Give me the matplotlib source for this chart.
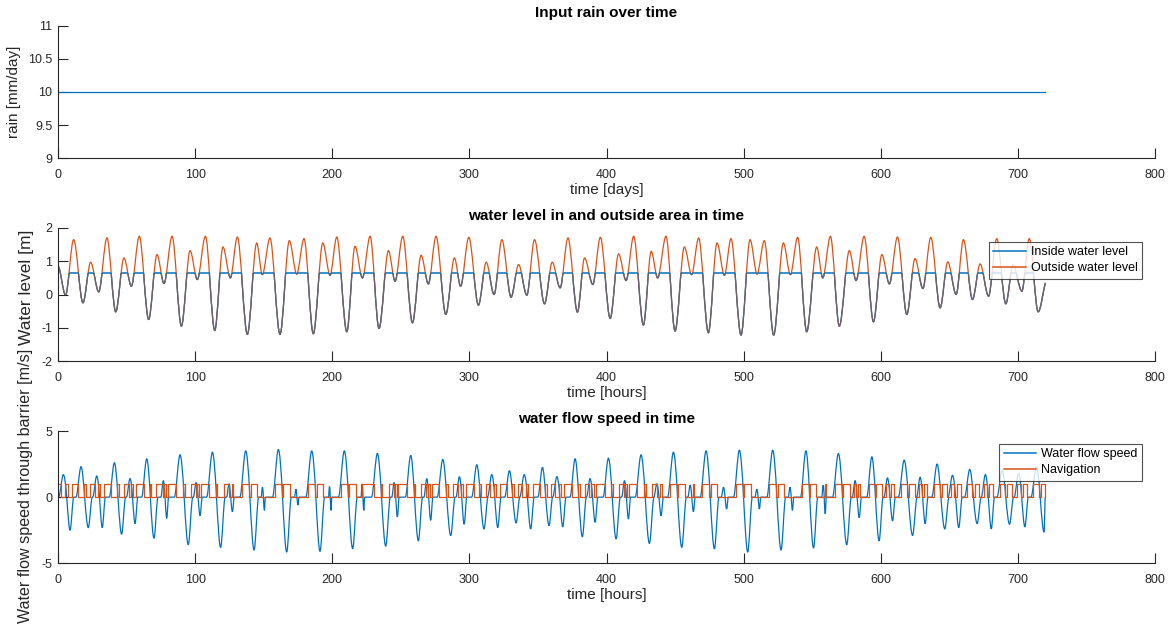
import numpy as np
import matplotlib
matplotlib.use("Agg")
import matplotlib.pyplot as plt
from matplotlib.ticker import FuncFormatter
from matplotlib.path import Path
from matplotlib.patches import PathPatch
from matplotlib.lines import Line2D

plt.rcParams['font.family'] = ['Liberation Sans', 'DejaVu Sans']

# ---- rain input ----
rain_days = [0, 720]
rain_mm = [10, 10]

# ---- outside tide: alternating low / high water (hour, level m) ----
tide_hours = [0, 5.5, 11.4, 18.2, 23.8, 29.7, 35.7, 42.1, 48.1, 53.5, 59.3, 66.1,
              72.2, 77.3, 83.2, 90.0, 96.3, 101.6, 107.5, 114.3, 120.3, 125.7, 130.8,
              138.1, 144.9, 149.0, 154.6, 161.9, 168.7, 174.1, 179.4, 186.2, 193.1,
              198.4, 203.3, 210.6, 216.6, 222.0, 227.6, 234.1, 241.0, 245.8, 251.4,
              258.5, 264.8, 270.1, 275.7, 282.8, 289.1, 293.6, 299.6, 306.6, 312.3,
              318.0, 323.7, 330.4, 335.9, 341.9, 347.5, 354.8, 360.4, 366.2, 371.9,
              378.8, 384.0, 390.0, 395.5, 402.7, 408.8, 414.3, 419.8, 426.9, 432.6,
              437.3, 443.4, 450.0, 456.8, 462.1, 467.2, 474.3, 480.6, 486.0, 490.8,
              498.1, 504.7, 509.8, 515.1, 521.9, 529.0, 534.1, 539.4, 546.0, 553.3,
              557.7, 563.3, 569.8, 577.1, 582.0, 587.9, 594.7, 600.8, 606.3, 612.2,
              619.0, 625.0, 630.7, 636.5, 643.3, 648.9, 655.0, 660.3, 666.9, 672.5,
              678.6, 684.6, 691.2, 696.5, 702.9, 708.3, 714.8, 720.0]
outside_level = [0.85, -0.02, 1.65, -0.25, 0.97, 0.08, 1.70, -0.52, 1.10, 0.25, 1.75, -0.75,
                 1.20, 0.33, 1.75, -0.95, 1.32, 0.45, 1.75, -1.08, 1.43, 0.50, 1.73,
                 -1.20, 1.55, 0.60, 1.70, -1.20, 1.62, 0.62, 1.68, -1.18, 1.55,
                 0.58, 1.73, -1.12, 1.45, 0.50, 1.75, -1.02, 1.32, 0.40, 1.75,
                 -0.85, 1.18, 0.32, 1.75, -0.60, 1.10, 0.25, 1.72, -0.32, 0.97,
                 0.00, 1.65, -0.08, 0.90, -0.02, 1.65, -0.28, 0.97, 0.20, 1.70,
                 -0.53, 1.10, 0.30, 1.72, -0.72, 1.22, 0.42, 1.75, -0.92, 1.30,
                 0.50, 1.75, -1.10, 1.43, 0.60, 1.70, -1.15, 1.55, 0.58, 1.68,
                 -1.22, 1.65, 0.62, 1.62, -1.22, 1.55, 0.60, 1.72, -1.12, 1.43,
                 0.50, 1.75, -0.95, 1.32, 0.42, 1.75, -0.82, 1.20, 0.32, 1.73,
                 -0.60, 1.08, 0.18, 1.72, -0.40, 0.98, 0.00, 1.65, -0.15, 0.92,
                 -0.05, 1.68, -0.28, 0.90, 0.10, 1.68, -0.52, 0.35]

# inside level is held at this value while the barrier is closed
inside_plateau = 0.65

# ---- flow through barrier: outflow peaks and inflow troughs (hour, m/s) ----
flow_peak_hours = [3.9, 16.8, 28.2, 41.1, 52.5, 64.7, 76.8, 89.0, 100.7, 112.6, 124.7,
                   136.9, 149.1, 160.7, 173.5, 185.0, 198.0, 208.8, 221.8, 232.9, 245.1,
                   257.2, 268.9, 280.6, 292.7, 305.4, 316.3, 329.2, 340.0, 353.3, 363.8,
                   377.1, 388.0, 401.4, 413.1, 425.2, 436.7, 448.8, 461.0, 472.6, 485.3,
                   496.9, 509.6, 521.2, 533.8, 545.4, 558.0, 569.1, 581.3, 593.5, 604.9,
                   617.1, 628.7, 641.1, 652.3, 664.9, 676.3, 688.5, 700.5, 713.5]
flow_peak_speed = [1.7, 2.3, 1.6, 2.6, 1.4, 2.9, 1.25, 3.2, 1.1, 3.4, 1.0,
                   3.5, 0.75, 3.6, 0.6, 3.5, 0.8, 3.5, 1.0, 3.3, 1.1,
                   3.15, 1.4, 2.85, 1.55, 2.45, 1.7, 2.0, 1.7, 2.25, 1.55,
                   2.9, 1.4, 2.95, 1.25, 3.2, 1.0, 3.4, 0.9, 3.5, 0.75,
                   3.55, 0.6, 3.55, 0.75, 3.5, 0.9, 3.3, 1.25, 3.05, 1.45,
                   2.8, 1.5, 2.5, 1.65, 2.1, 1.7, 2.0, 1.8, 2.3]
flow_trough_hours = [8.8, 22.1, 32.3, 46.4, 56.2, 70.0, 79.3, 95.0, 103.6, 118.6, 127.2,
                     143.0, 150.5, 166.8, 175.0, 191.1, 199.1, 214.9, 223.0, 239.0, 247.5,
                     262.8, 271.8, 286.4, 296.2, 310.7, 320.7, 334.1, 344.7, 358.1, 368.1,
                     382.4, 391.7, 407.0, 416.0, 431.3, 439.8, 454.9, 463.4, 478.7, 487.6,
                     503.0, 511.5, 527.3, 535.6, 551.0, 559.5, 575.2, 584.3, 598.8, 608.6,
                     623.2, 632.4, 646.7, 656.9, 670.3, 680.6, 693.9, 705.1, 719.1]
flow_trough_speed = [-2.5, -2.3, -2.3, -2.8, -2.0, -3.1, -1.6, -3.6, -1.4, -3.8, -1.1,
                     -4.0, -1.0, -4.15, -0.6, -4.1, -1.0, -3.9, -1.0, -3.7, -1.5,
                     -3.3, -1.75, -2.9, -2.05, -2.4, -2.3, -1.95, -2.4, -2.15, -2.25,
                     -3.0, -1.9, -3.15, -1.65, -3.5, -1.4, -3.8, -1.1, -3.9, -0.9,
                     -4.15, -0.9, -4.0, -1.0, -3.85, -1.25, -3.6, -1.55, -3.3, -1.8,
                     -2.9, -2.0, -2.4, -2.3, -2.0, -2.4, -2.05, -2.25, -2.65]

# ships may pass while the flow through the barrier stays below this speed
navigation_limit = 1.0

BLUE = '#0072BD'
ORANGE = '#D95319'
AX_COLOR = '#262626'
LW = 0.9
TICK_FS = 9
LABEL_FS = 11
TITLE_FS = 11


def hermite_segments(xs, ys, slopes):
    """Bezier control points of a cubic Hermite curve through the knots."""
    segs = []
    for i in range(len(xs) - 1):
        d = xs[i + 1] - xs[i]
        segs.append(((xs[i], ys[i]),
                     (xs[i] + d / 3, ys[i] + slopes[i] * d / 3),
                     (xs[i + 1] - d / 3, ys[i + 1] - slopes[i + 1] * d / 3),
                     (xs[i + 1], ys[i + 1])))
    return segs


def smooth_path(xs, ys, slopes):
    segs = hermite_segments(xs, ys, slopes)
    verts = [segs[0][0]]
    codes = [Path.MOVETO]
    for p0, p1, p2, p3 in segs:
        verts += [p1, p2, p3]
        codes += [Path.CURVE4] * 3
    return Path(verts, codes)


def level_crossings(xs, ys, slopes, level):
    """Hours at which the Hermite curve passes through `level`."""
    hits = []
    for p0, p1, p2, p3 in hermite_segments(xs, ys, slopes):
        y0, c1, c2, y1 = p0[1], p1[1], p2[1], p3[1]
        coeffs = [-y0 + 3 * c1 - 3 * c2 + y1, 3 * y0 - 6 * c1 + 3 * c2,
                  -3 * y0 + 3 * c1, y0 - level]
        while coeffs and abs(coeffs[0]) < 1e-12:
            coeffs = coeffs[1:]
        if len(coeffs) < 2:
            continue
        for r in np.roots(coeffs):
            if abs(r.imag) < 1e-9 and 0.0 < r.real < 1.0:
                hits.append(p0[0] + r.real * (p3[0] - p0[0]))
    return hits


def tide_slopes(xs, ys):
    # flat at every high / low water, chord slope at the open end
    s = [0.0] * len(xs)
    s[-1] = (ys[-1] - ys[-2]) / (xs[-1] - xs[-2])
    return s


def flow_knots(pk_t, pk_v, tr_t, tr_v, t_end):
    xs, ys, sl = [], [], []
    for a, av, b, bv in zip(pk_t, pk_v, tr_t, tr_v):
        gap = b - a
        start = max(0.0, a - 0.7 * gap)
        stop = min(t_end, b + 0.55 * gap)
        mid_slope = 1.6 * (bv - av) / gap
        xs += [start, a, 0.5 * (a + b), b]
        ys += [0.0, av, 0.0, bv]
        sl += [0.0, 0.0, mid_slope, 0.0]
        if stop > b:
            xs.append(stop)
            ys.append(0.0)
            sl.append(0.0)
    return xs, ys, sl


def navigation_steps(fx, fy, fs, limit, t_end):
    switches = sorted(level_crossings(fx, fy, fs, limit) +
                      level_crossings(fx, fy, fs, -limit))
    xs, ys, state = [0.0], [1], 1
    for t in switches:
        xs += [t, t]
        ys += [state, 1 - state]
        state = 1 - state
    xs.append(t_end)
    ys.append(state)
    return xs, ys


def style(ax, ylim, yticks):
    ax.set_xlim(0, 800)
    ax.set_ylim(*ylim)
    ax.set_xticks(range(0, 801, 100))
    ax.set_yticks(yticks)
    ax.yaxis.set_major_formatter(FuncFormatter(lambda v, p: '%g' % v))
    for s in ('top', 'right'):
        ax.spines[s].set_visible(False)
    for s in ('left', 'bottom'):
        ax.spines[s].set_color(AX_COLOR)
        ax.spines[s].set_linewidth(0.8)
    ax.tick_params(direction='in', length=7, width=0.8, colors=AX_COLOR,
                   labelsize=TICK_FS)
    ax.tick_params(axis='x', pad=8)
    ax.tick_params(axis='y', pad=4)


def add_legend(ax, labels, right, top):
    handles = [Line2D([], [], color=BLUE, lw=1.1), Line2D([], [], color=ORANGE, lw=1.1)]
    leg = ax.legend(handles, labels, loc='upper right', fontsize=9, frameon=True,
                    fancybox=False, borderpad=0.35, labelspacing=0.3,
                    handlelength=2.6, handletextpad=0.4, borderaxespad=0)
    leg.set_bbox_to_anchor((right / W, 1 - top / H), transform=fig.transFigure)
    leg.get_frame().set_edgecolor(AX_COLOR)
    leg.get_frame().set_linewidth(0.8)
    return leg


fig = plt.figure(figsize=(11.69, 6.30), dpi=100)
W, H = 1169, 630


def axes_px(left, top, right, bottom):
    return fig.add_axes([left / W, 1 - bottom / H, (right - left) / W, (bottom - top) / H])


def place_ylabel(ax, right_px, center_px, top, bottom):
    # right edge of the rotated label and its vertical centre, in figure pixels
    ax.yaxis.set_label_coords((right_px - 58) / 1097,
                              (bottom - center_px) / (bottom - top))


# rain
ax1 = axes_px(58, 25.7, 1155, 158.3)
ax1.plot(rain_days, rain_mm, color=BLUE, lw=LW)
style(ax1, (9, 11), [9, 9.5, 10, 10.5, 11])
ax1.set_xlabel('time [days]', fontsize=LABEL_FS, color=AX_COLOR, labelpad=1)
ax1.set_ylabel('rain [mm/day]', fontsize=LABEL_FS, color=AX_COLOR)
place_ylabel(ax1, 21, 92, 25.7, 158.3)
ax1.set_title('Input rain over time', fontsize=TITLE_FS, fontweight='bold', pad=6)

# water levels
ax2 = axes_px(58, 228, 1155, 361)
style(ax2, (-2, 2), [-2, -1, 0, 1, 2])
tide_path = smooth_path(tide_hours, outside_level, tide_slopes(tide_hours, outside_level))

# inside level: the outside curve where it is below the plateau (and the
# first falling limb), the plateau where the outside is above it
below = Path([(-10, -10), (-10, 10), (tide_hours[1], 10), (tide_hours[1], inside_plateau),
              (810, inside_plateau), (810, -10), (-10, -10)])
inside_low = PathPatch(tide_path, fill=False, edgecolor=BLUE, lw=LW)
ax2.add_patch(inside_low)
inside_low.set_clip_path(PathPatch(below, transform=ax2.transData))

under_verts = list(tide_path.vertices) + [(tide_hours[-1], -10), (tide_hours[0], -10),
                                          (tide_hours[0], outside_level[0])]
under_codes = list(tide_path.codes) + [Path.LINETO, Path.LINETO, Path.CLOSEPOLY]
under_clip = PathPatch(Path(under_verts, under_codes), transform=ax2.transData)
plateau, = ax2.plot([tide_hours[1], tide_hours[-1]], [inside_plateau, inside_plateau],
                    color=BLUE, lw=LW + 0.2)
plateau.set_clip_path(under_clip)

ax2.add_patch(PathPatch(tide_path, fill=False, edgecolor=ORANGE, lw=LW))
overlap = PathPatch(tide_path, fill=False, edgecolor=BLUE, lw=LW, alpha=0.5)
ax2.add_patch(overlap)
overlap.set_clip_path(PathPatch(below, transform=ax2.transData))

ax2.set_xlabel('time [hours]', fontsize=LABEL_FS, color=AX_COLOR, labelpad=1)
ax2.set_ylabel('Water level [m]', fontsize=12.5, color=AX_COLOR)
place_ylabel(ax2, 34, 287, 228, 361)
ax2.set_title('water level in and outside area in time', fontsize=TITLE_FS,
              fontweight='bold', pad=6)
add_legend(ax2, ['Inside water level', 'Outside water level'], 1142, 242)

# flow speed and navigation
ax3 = axes_px(58, 431, 1155, 563.3)
style(ax3, (-5, 5), [-5, 0, 5])
fx, fy, fs = flow_knots(flow_peak_hours, flow_peak_speed, flow_trough_hours,
                        flow_trough_speed, 720.0)
ax3.add_patch(PathPatch(smooth_path(fx, fy, fs), fill=False, edgecolor=BLUE, lw=LW))
nx, ny = navigation_steps(fx, fy, fs, navigation_limit, 720.0)
ax3.plot(nx, ny, color=ORANGE, lw=LW)
ax3.set_xlabel('time [hours]', fontsize=LABEL_FS, color=AX_COLOR, labelpad=1)
ax3.set_ylabel('Water flow speed through barrier [m/s]', fontsize=11.6, color=AX_COLOR)
place_ylabel(ax3, 33, 486, 431, 563.3)
ax3.set_title('water flow speed in time', fontsize=TITLE_FS, fontweight='bold', pad=6)
add_legend(ax3, ['Water flow speed', 'Navigation'], 1142, 444)

fig.savefig('out.png', dpi=100)
